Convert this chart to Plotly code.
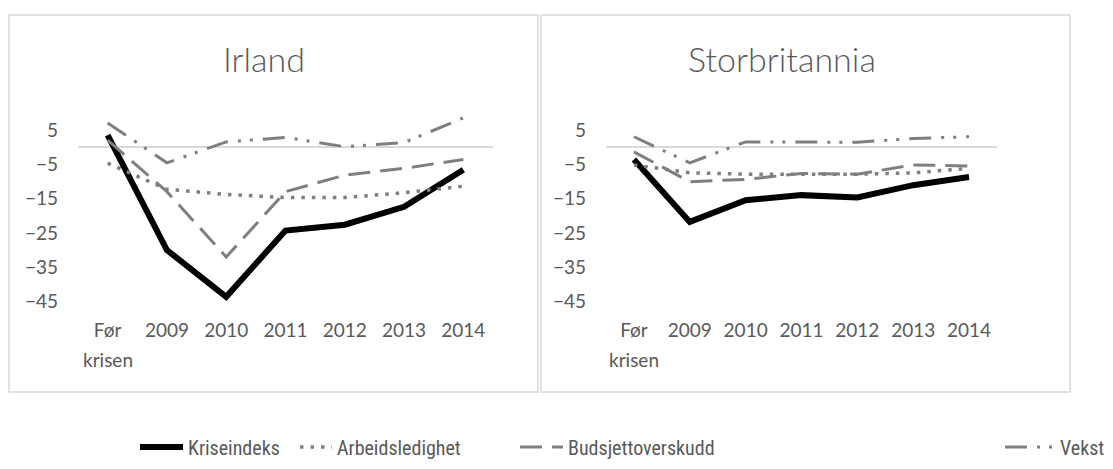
import plotly.graph_objects as go

categories = ["Før krisen", "2009", "2010", "2011", "2012", "2013", "2014"]
tick_labels = ["Før", "2009", "2010", "2011", "2012", "2013", "2014"]
y_ticks = [5, -5, -15, -25, -35, -45]

series_names = ["Kriseindeks", "Arbeidsledighet", "Budsjettoverskudd", "Vekst"]

irland_kriseindeks = [3.5, -30, -43.6, -24.3, -22.6, -17.4, -6.6]
irland_arbeidsledighet = [-4.7, -12.3, -13.8, -14.7, -14.7, -13.3, -11.4]
irland_budsjett = [2.0, -13.0, -32.0, -13.0, -8.2, -6.2, -3.6]
irland_vekst = [7.0, -4.6, 1.5, 2.8, 0.1, 1.3, 8.5]

uk_kriseindeks = [-3.6, -21.8, -15.5, -14.0, -14.7, -11.1, -8.7]
uk_arbeidsledighet = [-5.2, -7.5, -7.9, -7.9, -7.9, -7.5, -6.2]
uk_budsjett = [-1.4, -10.1, -9.4, -7.7, -7.9, -5.2, -5.5]
uk_vekst = [3.0, -4.6, 1.5, 1.4, 1.4, 2.5, 3.0]

# the page body has an 8px margin: shrink the figure to fit the window
OFF = 8
W = 1113 - 2 * OFF
H = 469 - 2 * OFF
GRAY = "#7f7f7f"
TXT = "#595959"
BORDER = "#d9d9d9"
FONT = "Lato, Open Sans, sans-serif"

styles = [
    dict(color="black", width=6, dash="solid"),
    dict(color=GRAY, width=3.5, dash="3.5px,7px"),
    dict(color=GRAY, width=3, dash="22px,10px"),
    dict(color=GRAY, width=3, dash="22px,10px,3px,9px,3px,10px"),
]

fig = go.Figure()

panels = [
    ("x", "y", [irland_kriseindeks, irland_arbeidsledighet, irland_budsjett, irland_vekst], True),
    ("x2", "y2", [uk_kriseindeks, uk_arbeidsledighet, uk_budsjett, uk_vekst], False),
]
legend_ids = ["legend", "legend2", "legend3", "legend4"]
for xa, ya, data, show in panels:
    for i, (name, vals) in enumerate(zip(series_names, data)):
        fig.add_trace(go.Scatter(
            x=categories, y=vals, mode="lines", name=name,
            line=styles[i], xaxis=xa, yaxis=ya,
            showlegend=show, legend=legend_ids[i], hoverinfo="skip",
        ))


def px_x(v):
    return (v - OFF) / W


def px_y(v):
    return 1 - (v - OFF) / H


ydom = [px_y(301.6), px_y(112.7)]

axis_common_x = dict(
    type="category", range=[-0.5, 6.5], showgrid=False, zeroline=False,
    showline=False, tickmode="array", tickvals=categories, ticktext=tick_labels,
    tickfont=dict(family=FONT, size=19, color=TXT),
    ticks="", ticklabelstandoff=15, fixedrange=True,
)
axis_common_y = dict(
    range=[-45, 10], showgrid=False, zeroline=True, zerolinecolor=BORDER,
    zerolinewidth=1.5, showline=False, tickmode="array", tickvals=y_ticks,
    tickfont=dict(family=FONT, size=19, color=TXT),
    ticks="", ticklabelstandoff=19, fixedrange=True,
)

annotations = [
    dict(text="Irland", xref="paper", yref="paper", x=px_x(264), y=px_y(58),
         xanchor="center", yanchor="middle", showarrow=False,
         font=dict(family=FONT, size=34, color=TXT, weight=300)),
    dict(text="Storbritannia", xref="paper", yref="paper", x=px_x(782), y=px_y(58),
         xanchor="center", yanchor="middle", showarrow=False,
         font=dict(family=FONT, size=34, color=TXT, weight=300)),
]
for xr in ["x", "x2"]:
    annotations.append(dict(
        text="krisen", xref=xr, yref="paper", x=categories[0], y=px_y(359),
        xanchor="center", yanchor="middle", showarrow=False,
        font=dict(family=FONT, size=19, color=TXT)))

fig.update_layout(
    width=W, height=H, margin=dict(l=0, r=0, t=0, b=0, autoexpand=False),
    paper_bgcolor="white", plot_bgcolor="white",
    xaxis=dict(domain=[px_x(78), px_x(493)], anchor="y", **axis_common_x),
    yaxis=dict(domain=ydom, anchor="x", **axis_common_y),
    xaxis2=dict(domain=[px_x(606), px_x(997)], anchor="y2", **axis_common_x),
    yaxis2=dict(domain=ydom, anchor="x2", **axis_common_y),
    shapes=[
        dict(type="rect", xref="paper", yref="paper", x0=px_x(9), x1=px_x(538),
             y0=px_y(392), y1=px_y(15), line=dict(color=BORDER, width=1.5)),
        dict(type="rect", xref="paper", yref="paper", x0=px_x(541), x1=px_x(1070),
             y0=px_y(392), y1=px_y(15), line=dict(color=BORDER, width=1.5)),
    ],
    annotations=annotations,
)

leg_font = dict(family="Liberation Sans Narrow, Arial Narrow, Roboto Condensed, sans-serif",
                size=20, color=TXT)
leg_line_start = [140, 300, 520, 1005]
leg_item_w = [43, 32, 43, 50]
for lid, lx, iw in zip(legend_ids, leg_line_start, leg_item_w):
    fig.update_layout({lid: dict(
        x=px_x(lx - 5), y=px_y(447), xanchor="left", yanchor="middle",
        orientation="h", font=leg_font, bgcolor="rgba(0,0,0,0)", borderwidth=0,
        itemwidth=iw, itemclick=False, itemdoubleclick=False,
    )})

fig.write_html("out.html")
